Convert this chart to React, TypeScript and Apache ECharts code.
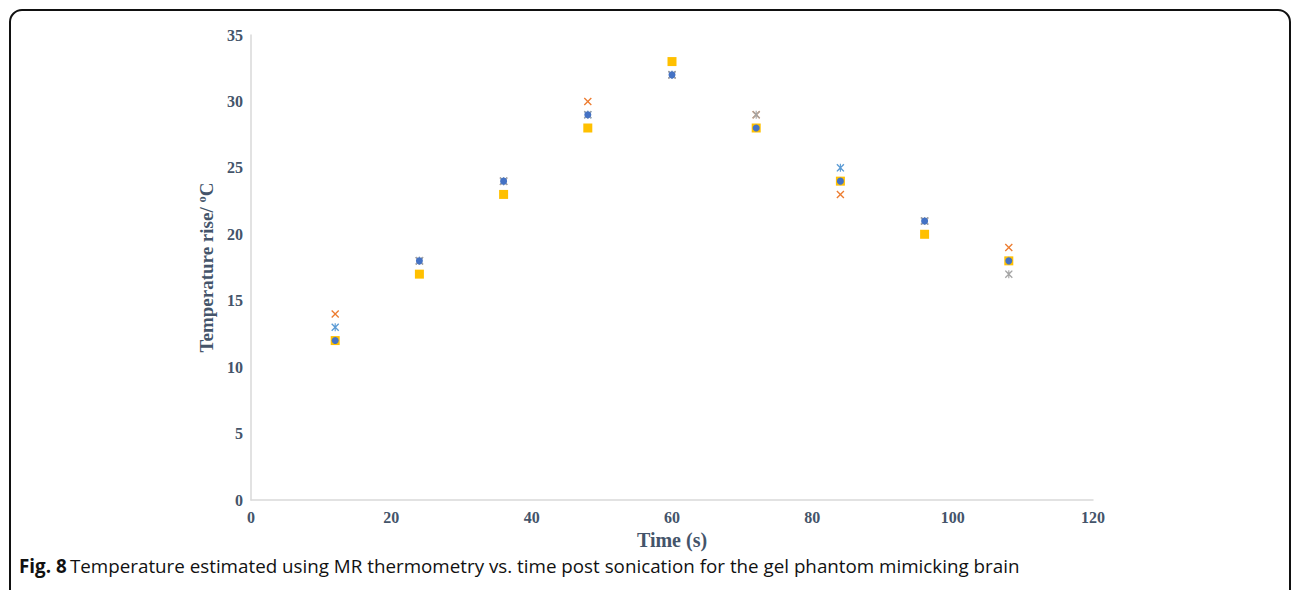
import React, { useEffect, useRef } from "react";
import * as echarts from "echarts";

const times = [12, 24, 36, 48, 60, 72, 84, 96, 108];
const orangeSeries = [14, 18, 24, 30, 32, 29, 23, 21, 19];
const lightBlueSeries = [13, 18, 24, 29, 32, 28, 25, 21, 18];
const graySeries = [12, 18, 24, 29, 32, 29, 24, 21, 17];
const blueSeries = [12, 18, 24, 29, 32, 28, 24, 21, 18];
const yellowSeries = [12, 17, 23, 28, 33, 28, 24, 20, 18];
const xTicks = { min: 0, max: 120, interval: 20 };
const yTicks = { min: 0, max: 35, interval: 5 };

const X_PATH = "path://M0,1.2L1.2,0L5,3.8L8.8,0L10,1.2L6.2,5L10,8.8L8.8,10L5,6.2L1.2,10L0,8.8L3.8,5Z";
const STAR_PATH = "path://M0,1.2L1.2,0L4.3,3.1L4.3,0L5.7,0L5.7,3.1L8.8,0L10,1.2L6.2,5L10,8.8L8.8,10L5.7,6.9L5.7,10L4.3,10L4.3,6.9L1.2,10L0,8.8L3.8,5Z";

const pairs = (vals: number[]) => times.map((t, i) => [t, vals[i]]);

export default function App() {
  const ref = useRef<HTMLDivElement>(null);
  useEffect(() => {
    if (!ref.current) return;
    const chart = echarts.init(ref.current, undefined, { renderer: "svg" });
    const labelColor = "#44546a";
    const axisFont = {
      fontFamily: "Liberation Serif",
      fontWeight: "bold" as const,
      color: labelColor,
    };
    chart.setOption({
      animation: false,
      grid: { left: 251, right: 200, top: 35, bottom: 90 },
      xAxis: {
        type: "value",
        min: xTicks.min,
        max: xTicks.max,
        interval: xTicks.interval,
        name: "Time (s)",
        nameLocation: "middle",
        nameGap: 29,
        nameTextStyle: { ...axisFont, fontSize: 20 },
        axisLine: { show: true, lineStyle: { color: "#d9d9d9", width: 1.5 } },
        axisTick: { show: false },
        splitLine: { show: false },
        axisLabel: { ...axisFont, fontSize: 16, margin: 9 },
      },
      yAxis: {
        type: "value",
        min: yTicks.min,
        max: yTicks.max,
        interval: yTicks.interval,
        name: "Temperature rise/ ºC",
        nameLocation: "middle",
        nameGap: 34,
        nameTextStyle: { ...axisFont, fontSize: 19 },
        axisLine: { show: true, lineStyle: { color: "#d9d9d9", width: 1.5 } },
        axisTick: { show: false },
        splitLine: { show: false },
        axisLabel: { ...axisFont, fontSize: 16, margin: 8 },
      },
      series: [
        {
          type: "scatter",
          data: pairs(orangeSeries),
          symbol: X_PATH,
          symbolSize: 8,
          itemStyle: { color: "#ed7d31", opacity: 1 },
          z: 1,
        },
        {
          type: "scatter",
          data: pairs(lightBlueSeries),
          symbol: STAR_PATH,
          symbolSize: 8,
          itemStyle: { color: "#5b9bd5", opacity: 1 },
          z: 1,
        },
        {
          type: "scatter",
          data: pairs(graySeries),
          symbol: STAR_PATH,
          symbolSize: 8,
          itemStyle: { color: "#a5a5a5", opacity: 1 },
          z: 1,
        },
        {
          type: "scatter",
          data: pairs(yellowSeries),
          symbol: "rect",
          symbolSize: 9,
          itemStyle: { color: "#ffc000", opacity: 1 },
          z: 2,
        },
        {
          type: "scatter",
          data: pairs(blueSeries),
          symbol: "circle",
          symbolSize: 7,
          itemStyle: { color: "#4472c4", opacity: 1 },
          z: 3,
        },
      ],
      graphic: [
        {
          type: "rect",
          shape: { x: 10, y: 10, width: 1280, height: 640, r: 12 },
          style: { fill: "none", stroke: "#111", lineWidth: 2 },
          silent: true,
        },
        {
          type: "text",
          left: 19,
          top: 556,
          style: {
            text: "{b|Fig. 8} {n|Temperature estimated using MR thermometry vs. time post sonication for the gel phantom mimicking brain}",
            rich: {
              b: { fontFamily: "Open Sans", fontWeight: "bold", fontSize: 18.8, fill: "#111" },
              n: { fontFamily: "Open Sans", fontSize: 18.8, fill: "#111" },
            },
          },
        },
      ],
    });
    return () => chart.dispose();
  }, []);
  return (
    <div
      ref={ref}
      style={{ position: "fixed", left: 0, top: 0, width: 1293, height: 590, background: "#fff" }}
    />
  );
}
